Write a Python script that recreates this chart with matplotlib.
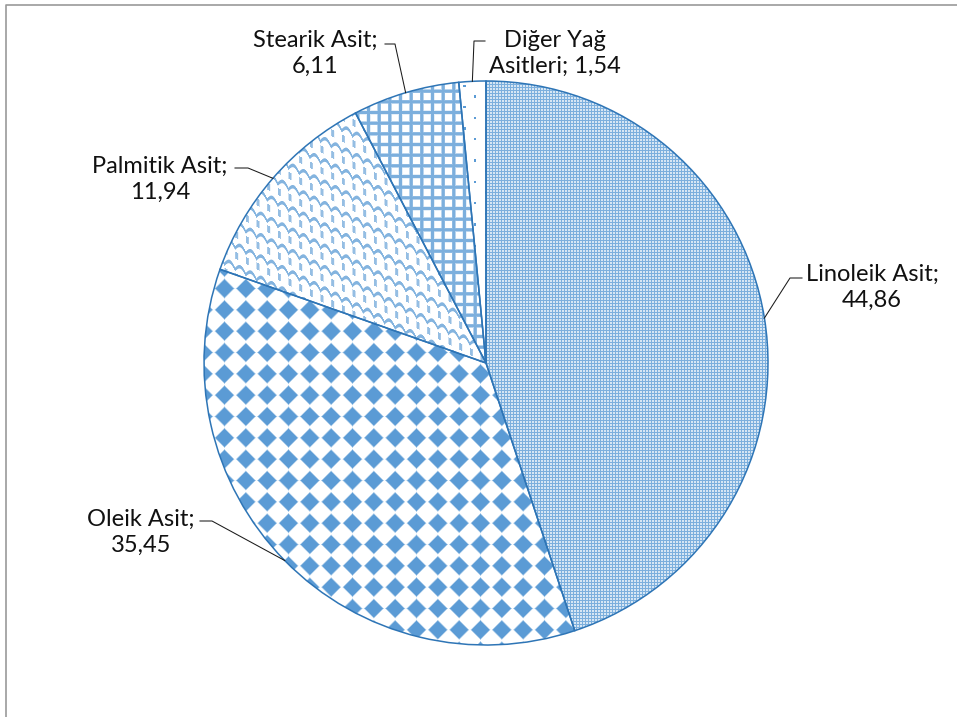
import numpy as np
import matplotlib
matplotlib.use("Agg")
import matplotlib.pyplot as plt
from matplotlib.patches import Wedge

labels = ["Linoleik Asit;\n44,86", "Oleik Asit;\n35,45", "Palmitik Asit;\n11,94",
          "Stearik Asit;\n6,11", "Diğer Yağ\nAsitleri; 1,54"]
values = [44.86, 35.45, 11.94, 6.11, 1.54]

W, H = 957, 717
plt.rcParams['font.family'] = ['Lato', 'DejaVu Sans']

fig = plt.figure(figsize=(W / 100, H / 100), dpi=100)
ax = fig.add_axes([0, 0, 1, 1])
ax.axis('off')

# pie in pixel coordinates (y up)
cx, cy, R = 486, H - 363, 282
wedges, _ = ax.pie(values, startangle=90, counterclock=False, center=(cx, cy), radius=R,
                   wedgeprops=dict(facecolor='white', edgecolor='none'))
ax.set_xlim(0, W)
ax.set_ylim(0, H)

# pattern fills (Excel-like), built in pixel space
yy, xx = np.mgrid[0:H, 0:W].astype(float)
blue = np.array([91, 155, 213]) / 255.0


def texture(alpha):
    img = np.zeros((H, W, 4))
    img[..., :3] = blue
    img[..., 3] = np.clip(alpha, 0, 1)
    return img


p = 64 / 3.0
q = 32 / 3.0
# Linoleik: fine dotted
fine = (((xx % 3) < 1) | ((yy % 3) < 1)).astype(float) * 0.55 + 0.25
# Oleik: solid diamonds
dx = np.abs((xx % p) - p / 2)
dy = np.abs((yy % p) - p / 2)
diam = np.clip((10.5 - (dx + dy)) / 2.0, 0, 1)
# Palmitik: shingle / wave lines
v = (yy - 0.5 * xx + 5 * np.abs(np.sin(np.pi * xx / q))) % p
u = (yy - 0.5 * xx) % p
conn = np.clip(2.0 - np.abs((xx % q) - 1.5), 0, 1) * ((u > 6) & (u < 13))
shing = np.maximum(np.clip(2.3 - np.abs(v - 2.2), 0, 1) * 0.75, conn * 0.65)
# Stearik: small grid
gx = np.abs((xx % q) - q / 2)
gy = np.abs((yy % q) - q / 2)
grid = np.clip((2.2 - np.minimum(gx, gy)), 0, 1) * 0.8
# Diğer: sparse dots
col = np.floor(xx / q)
ddx = np.abs((xx % q) - q / 2)
ddy = np.abs(((yy + (col % 2) * q) % p) - p / 2)
dots = ((ddx < 1.2) & (ddy < 1.2)).astype(float)

patterns = [fine, diam, shing, grid, dots]
for w, pat in zip(wedges, patterns):
    im = ax.imshow(texture(pat), extent=(0, W, 0, H), origin='upper',
                   interpolation='nearest', zorder=2)
    im.set_clip_path(w)
    ax.add_patch(Wedge(w.center, w.r, w.theta1, w.theta2, facecolor='none',
                       edgecolor='#2E75B6', linewidth=1.1, zorder=3))

# data labels with leader lines (positions in image pixels, y down)
label_pos = [(872, 287), (141, 532), (160, 179), (315, 53), (555, 53)]
elbows = [[(790, 278), (802, 278)], [(212, 521), (200, 521)], [(248, 168), (235, 168)],
          [(395, 44), (385, 44)], [(474, 41), (485, 41)]]
for w, lab, (tx, ty), elb in zip(wedges, labels, label_pos, elbows):
    mid = np.deg2rad((w.theta1 + w.theta2) / 2)
    ax0 = cx + R * np.cos(mid)
    ay0 = cy + R * np.sin(mid)
    xs = [ax0] + [e[0] for e in elb]
    ys = [ay0] + [H - e[1] for e in elb]
    ax.plot(xs, ys, color='#1a1a1a', lw=0.75, zorder=4)
    ax.text(tx, H - ty, lab, ha='center', va='center', multialignment='center',
            fontsize=17, color='#111111', linespacing=1.28, zorder=5)

# chart area border (only left and top visible)
ax.plot([6, 6, W + 5], [-5, H - 5, H - 5], color='#999999', lw=1.2, clip_on=False, zorder=6)

fig.savefig("out.png", dpi=100)
